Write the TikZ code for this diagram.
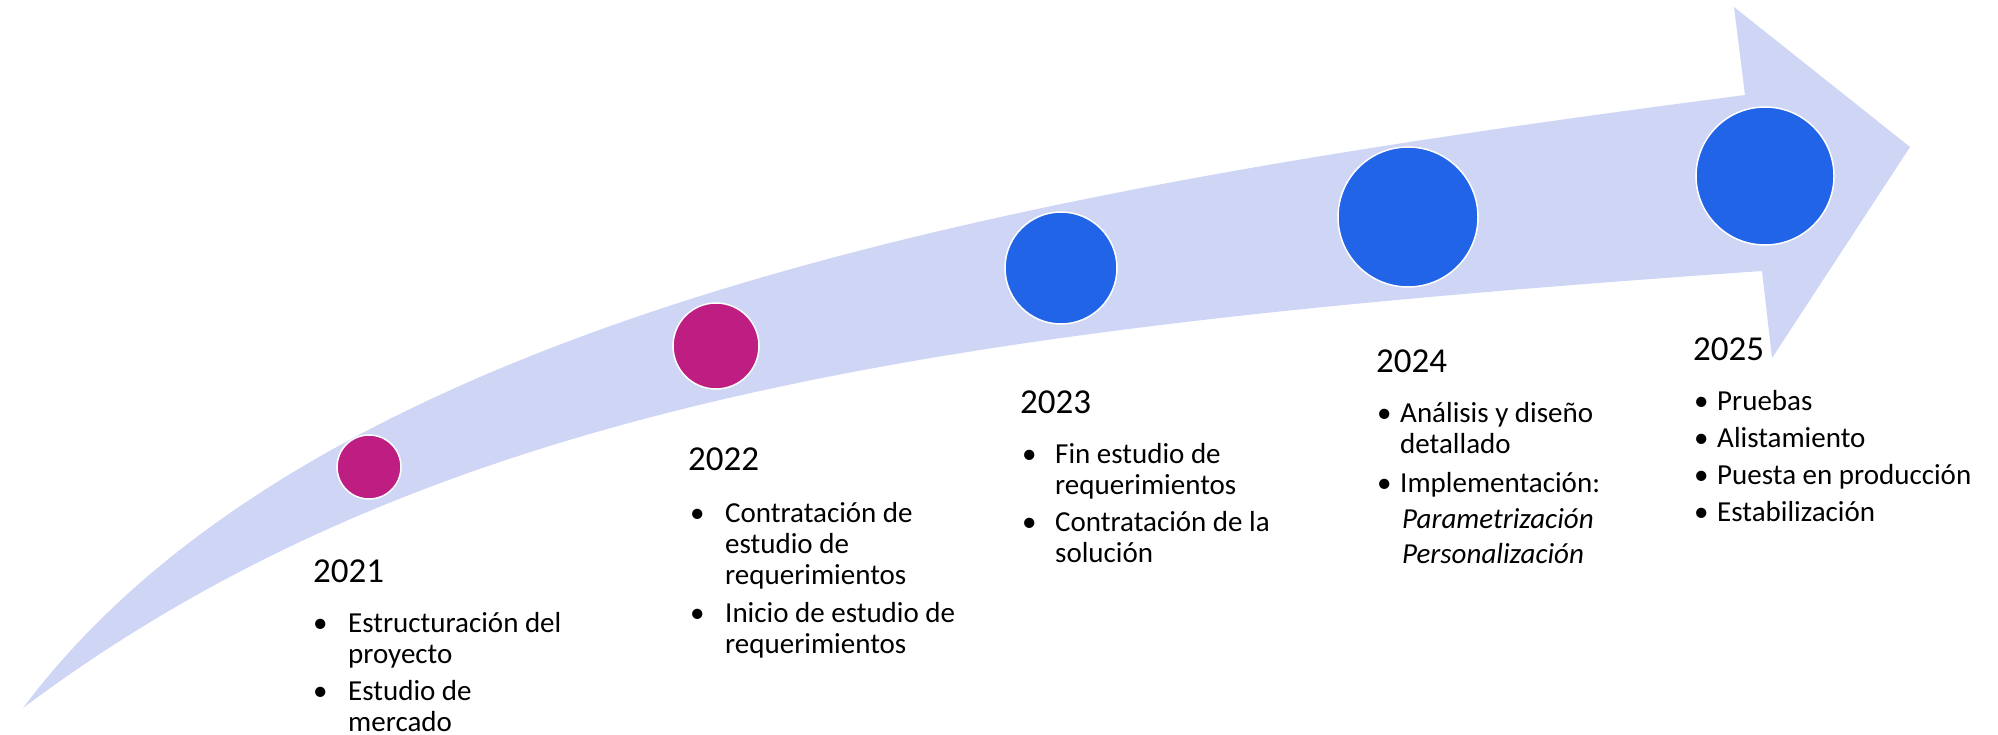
\documentclass[tikz,border=0pt]{standalone}
\usepackage{fontspec}
\setmainfont{Carlito}
\definecolor{banda}{RGB}{207,213,245}
\definecolor{rosa}{RGB}{190,30,130}
\definecolor{azul}{RGB}{33,100,232}
\newcommand{\lineas}[1]{\begin{tabular}[t]{@{}l@{}}#1\end{tabular}}
\tikzset{
  hito/.style={circle, fill=#1, draw=white, line width=1.5pt, inner sep=0pt},
  anio/.style={anchor=base west, inner sep=0pt, font=\fontsize{35}{40}\selectfont},
  punto/.style={anchor=base west, inner sep=0pt, font=\fontsize{29}{31}\selectfont},
}
\begin{document}
\begin{tikzpicture}[x=1pt, y=-1pt]
\useasboundingbox (0,0) rectangle (1998,735);
% curved arrow
\fill[banda] (23,708) .. controls (323,308) and (1045,186) .. (1745,95)
  -- (1734,7) -- (1910,147) -- (1772,358) -- (1762,271)
  .. controls (962,327) and (439,396) .. (23,708) -- cycle;
% milestones
\node[hito=rosa, minimum size=64pt] (c21) at (369,467) {};
\node[hito=rosa, minimum size=86pt] (c22) at (716,346) {};
\node[hito=azul, minimum size=112pt] (c23) at (1061,268) {};
\node[hito=azul, minimum size=140pt] (c24) at (1408,217) {};
\node[hito=azul, minimum size=138pt] (c25) at (1765,176) {};
% 2021
\node[anio] (y21) at (313,582) {2021};
\node[punto] (p21a) at (313,632) {•};
\node[punto] (t21a) at (348,632) {\lineas{Estructuración del\\proyecto}};
\node[punto] (p21b) at (313,700) {•};
\node[punto] (t21b) at (348,700) {\lineas{Estudio de\\mercado}};
% 2022
\node[anio] (y22) at (688,470) {2022};
\node[punto] (p22a) at (690,522) {•};
\node[punto] (t22a) at (725,522) {\lineas{Contratación de\\estudio de\\requerimientos}};
\node[punto] (p22b) at (690,622) {•};
\node[punto] (t22b) at (725,622) {\lineas{Inicio de estudio de\\requerimientos}};
% 2023
\node[anio] (y23) at (1020,413) {2023};
\node[punto] (p23a) at (1022,463) {•};
\node[punto] (t23a) at (1055,463) {\lineas{Fin estudio de\\requerimientos}};
\node[punto] (p23b) at (1022,531) {•};
\node[punto] (t23b) at (1055,531) {\lineas{Contratación de la\\solución}};
% 2024
\node[anio] (y24) at (1376,373) {2024};
\node[punto] (p24a) at (1377,422) {•};
\node[punto] (t24a) at (1400,422) {\lineas{Análisis y diseño\\detallado}};
\node[punto] (p24b) at (1377,492) {•};
\node[punto] (t24b) at (1400,492) {\lineas{Implementación:}};
\node[punto] (t24c) at (1402,528) {\lineas{\itshape Parametrización}};
\node[punto] (t24d) at (1402,563) {\lineas{\itshape Personalización}};
% 2025
\node[anio] (y25) at (1693,360) {2025};
\foreach \txt [count=\i] in {Pruebas, Alistamiento, Puesta en producción, Estabilización}{
  \node[punto] (p25\i) at (1694,373+37*\i) {•};
  \node[punto] (t25\i) at (1717,373+37*\i) {\txt};
}
\end{tikzpicture}
\end{document}
